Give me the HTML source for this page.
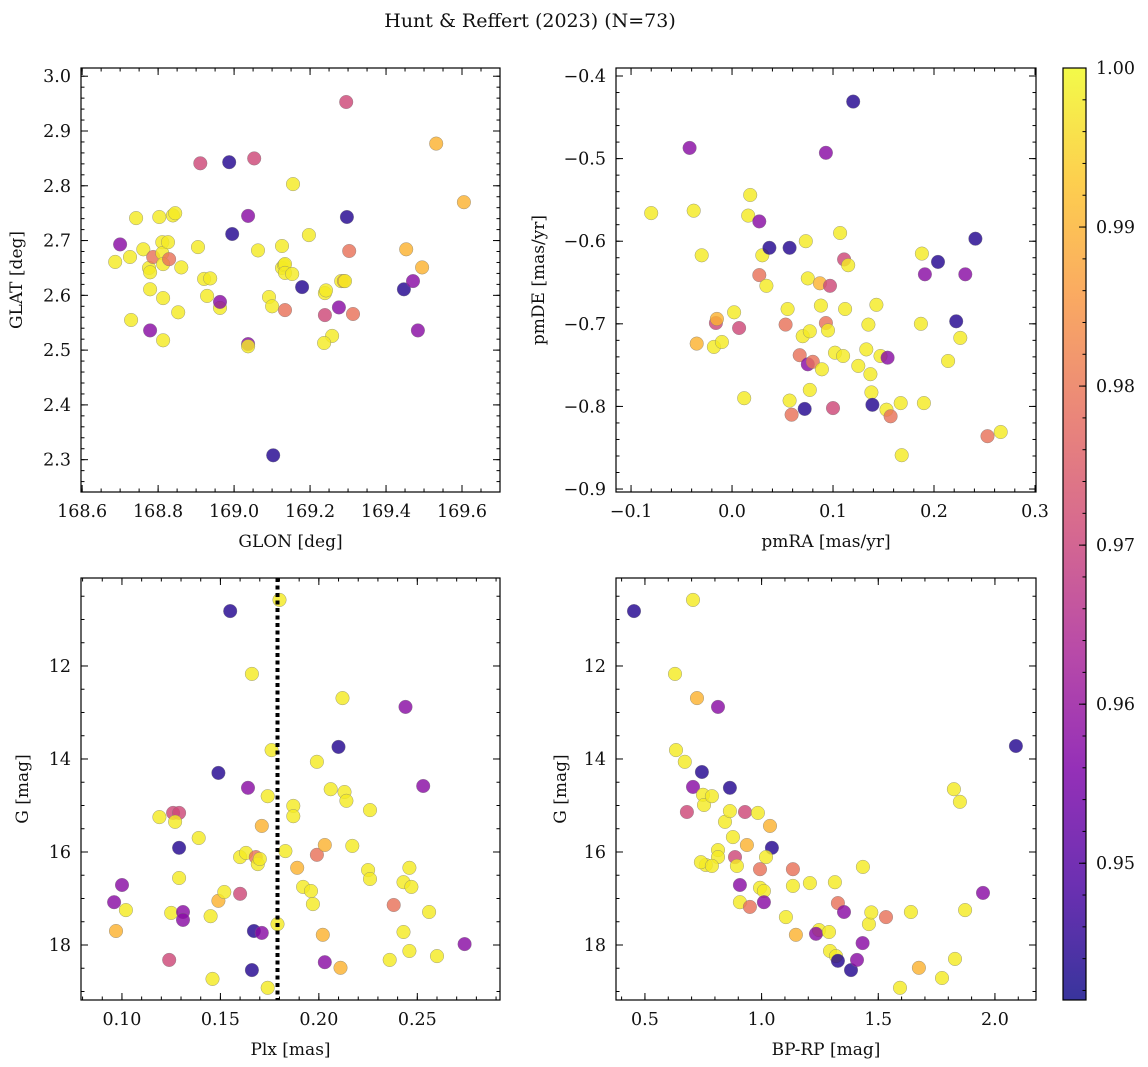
<!DOCTYPE html>
<html><head><meta charset="utf-8"><title>Hunt & Reffert (2023)</title>
<style>html,body{margin:0;padding:0;background:#fff;}svg{display:block;font-family:"DejaVu Serif","Liberation Serif",serif;}</style>
</head><body>
<svg id="fig" width="1148" height="1067" viewBox="0 0 1148 1067" xmlns="http://www.w3.org/2000/svg">
<text x="530" y="27" font-size="19" text-anchor="middle" fill="#111">Hunt &amp; Reffert (2023) (N=73)</text>
</svg>
<script>
// membership probability codes
const Y=0.998,O=0.990,S=0.979,P=0.971,M=0.958,B=0.944;
const panel1Data=[[168.700,2.693,M],[168.687,2.661,Y],[168.742,2.741,Y],[168.726,2.670,Y],[168.729,2.555,Y],[168.761,2.684,Y],[168.776,2.650,Y],[168.779,2.642,Y],[168.779,2.611,Y],[168.779,2.536,M],[168.787,2.670,S],[168.803,2.743,Y],[168.811,2.697,Y],[168.811,2.677,Y],[168.813,2.657,Y],[168.813,2.595,Y],[168.813,2.518,Y],[168.826,2.697,Y],[168.829,2.666,S],[168.839,2.746,Y],[168.845,2.750,Y],[168.853,2.569,Y],[168.861,2.651,Y],[168.905,2.688,Y],[168.911,2.841,P],[168.921,2.630,Y],[168.929,2.599,Y],[168.937,2.631,Y],[168.963,2.577,Y],[168.963,2.588,M],[168.987,2.843,B],[168.995,2.712,B],[169.037,2.745,M],[169.037,2.511,M],[169.037,2.507,Y],[169.053,2.850,P],[169.063,2.682,Y],[169.092,2.597,Y],[169.100,2.580,Y],[169.126,2.650,Y],[169.126,2.690,Y],[169.132,2.655,Y],[169.134,2.657,Y],[169.134,2.641,Y],[169.134,2.573,S],[169.153,2.639,Y],[169.155,2.803,Y],[169.179,2.615,B],[169.197,2.710,Y],[169.239,2.604,Y],[169.242,2.609,Y],[169.239,2.564,P],[169.258,2.526,Y],[169.237,2.513,Y],[169.276,2.578,M],[169.282,2.626,Y],[169.289,2.626,O],[169.292,2.626,Y],[169.295,2.953,P],[169.297,2.743,B],[169.303,2.681,S],[169.313,2.566,S],[169.447,2.611,B],[169.453,2.684,O],[169.471,2.626,M],[169.484,2.536,M],[169.495,2.651,O],[169.532,2.877,O],[169.605,2.770,O],[169.103,2.308,B]];
const panel2Data=[[-0.080,-0.566,Y],[-0.038,-0.563,Y],[-0.042,-0.487,M],[-0.030,-0.617,Y],[-0.035,-0.724,O],[-0.018,-0.728,Y],[-0.016,-0.699,P],[-0.015,-0.694,O],[-0.010,-0.722,Y],[0.002,-0.686,Y],[0.007,-0.705,P],[0.012,-0.790,Y],[0.018,-0.544,Y],[0.016,-0.569,Y],[0.027,-0.576,M],[0.027,-0.641,S],[0.030,-0.617,Y],[0.034,-0.654,Y],[0.037,-0.608,B],[0.057,-0.608,B],[0.055,-0.682,Y],[0.053,-0.701,S],[0.057,-0.793,Y],[0.059,-0.810,S],[0.067,-0.738,S],[0.070,-0.715,Y],[0.073,-0.600,Y],[0.075,-0.645,Y],[0.075,-0.749,M],[0.072,-0.803,B],[0.077,-0.709,Y],[0.077,-0.780,Y],[0.080,-0.746,S],[0.087,-0.651,O],[0.088,-0.678,Y],[0.089,-0.755,Y],[0.093,-0.493,M],[0.093,-0.699,S],[0.095,-0.708,Y],[0.097,-0.654,P],[0.100,-0.802,P],[0.102,-0.735,Y],[0.107,-0.590,Y],[0.110,-0.739,Y],[0.111,-0.622,P],[0.112,-0.682,Y],[0.115,-0.629,Y],[0.120,-0.431,B],[0.125,-0.751,Y],[0.133,-0.731,Y],[0.135,-0.701,Y],[0.137,-0.761,Y],[0.138,-0.783,Y],[0.139,-0.798,B],[0.143,-0.677,Y],[0.147,-0.739,Y],[0.153,-0.804,Y],[0.154,-0.741,M],[0.157,-0.812,S],[0.167,-0.796,Y],[0.168,-0.859,Y],[0.187,-0.700,Y],[0.188,-0.615,Y],[0.190,-0.796,Y],[0.191,-0.640,M],[0.204,-0.625,B],[0.214,-0.745,Y],[0.222,-0.697,B],[0.226,-0.717,Y],[0.231,-0.640,M],[0.241,-0.597,B],[0.253,-0.836,S],[0.266,-0.831,Y]];
const panel3Data=[[0.096,17.08,M],[0.100,16.71,M],[0.097,17.70,O],[0.102,17.25,Y],[0.119,15.25,Y],[0.124,18.32,P],[0.126,15.16,P],[0.129,15.16,P],[0.127,15.35,Y],[0.125,17.31,Y],[0.129,15.91,B],[0.129,16.56,Y],[0.131,17.29,M],[0.131,17.46,M],[0.139,15.70,Y],[0.145,17.38,Y],[0.146,18.73,Y],[0.149,14.30,B],[0.149,17.05,O],[0.152,16.86,Y],[0.155,10.82,B],[0.160,16.90,P],[0.160,16.11,Y],[0.163,16.02,Y],[0.164,14.62,M],[0.166,12.17,Y],[0.166,18.54,B],[0.167,17.70,B],[0.168,16.11,S],[0.169,16.26,Y],[0.170,16.15,Y],[0.171,17.74,M],[0.171,15.44,O],[0.174,14.80,Y],[0.174,18.92,Y],[0.176,13.81,Y],[0.179,17.55,Y],[0.180,10.58,Y],[0.183,15.98,Y],[0.187,15.01,Y],[0.187,15.23,Y],[0.189,16.34,O],[0.192,16.75,Y],[0.196,16.84,Y],[0.197,17.12,Y],[0.199,16.06,S],[0.199,14.06,Y],[0.202,17.78,O],[0.203,15.85,O],[0.203,18.37,M],[0.206,14.65,Y],[0.210,13.74,B],[0.211,18.49,O],[0.212,12.69,Y],[0.213,14.71,Y],[0.214,14.90,Y],[0.217,15.87,Y],[0.225,16.39,Y],[0.226,15.10,Y],[0.226,16.58,Y],[0.236,18.32,Y],[0.238,17.14,S],[0.243,16.65,Y],[0.243,17.72,Y],[0.244,12.88,M],[0.246,18.13,Y],[0.246,16.34,Y],[0.247,16.75,Y],[0.253,14.58,M],[0.256,17.29,Y],[0.260,18.24,Y],[0.274,17.98,M]];
const panel4Data=[[0.453,10.82,B],[0.706,10.58,Y],[0.629,12.17,Y],[0.723,12.69,O],[0.813,12.88,M],[0.633,13.81,Y],[0.671,14.06,Y],[0.744,14.28,B],[0.706,14.60,M],[0.749,14.77,Y],[0.864,14.62,B],[0.753,14.99,Y],[0.787,14.80,Y],[0.680,15.14,P],[0.843,15.35,Y],[0.864,15.12,Y],[0.929,15.14,P],[0.984,15.16,Y],[1.036,15.44,O],[0.877,15.68,Y],[0.937,15.85,O],[1.044,15.91,B],[0.813,15.96,Y],[0.813,16.11,Y],[0.886,16.11,P],[1.019,16.11,Y],[0.761,16.28,Y],[0.740,16.22,Y],[0.787,16.30,Y],[0.894,16.30,Y],[0.993,16.37,S],[1.134,16.37,S],[0.907,16.71,M],[0.993,16.77,Y],[1.010,16.84,Y],[1.134,16.73,Y],[1.207,16.67,Y],[1.314,16.65,Y],[0.907,17.08,Y],[1.010,17.08,M],[0.950,17.18,S],[1.104,17.40,Y],[1.327,17.10,S],[1.353,17.29,M],[1.533,17.40,S],[1.640,17.29,Y],[1.147,17.78,O],[1.246,17.68,Y],[1.233,17.76,M],[1.289,17.72,Y],[1.293,18.13,Y],[1.319,18.24,Y],[1.327,18.34,B],[1.383,18.54,B],[1.409,18.32,M],[1.674,18.49,O],[1.593,18.92,Y],[1.773,18.71,Y],[1.829,18.30,Y],[1.824,14.65,Y],[1.850,14.92,Y],[1.872,17.25,Y],[1.949,16.88,M],[2.090,13.72,B],[1.434,16.32,Y],[1.460,17.55,Y],[1.433,17.96,M],[1.470,17.30,Y]];
const plxLine=0.179;
const cbarTicks=[1.00,0.99,0.98,0.97,0.96,0.95];
const cbarMin=0.9414, cbarMax=1.0;

const NS="http://www.w3.org/2000/svg";
const svg=document.getElementById('fig');
function mk(tag,attrs,parent){const e=document.createElementNS(NS,tag);for(const k in attrs)e.setAttribute(k,attrs[k]);(parent||svg).appendChild(e);return e;}
const stops=[[13,8,135],[76,2,161],[126,3,168],[169,35,149],[204,71,120],[229,107,93],[248,149,64],[253,195,40],[240,249,33]];
function cmap(p){let t=(p-cbarMin)/(cbarMax-cbarMin);t=Math.max(0,Math.min(1,t));const f=t*8,i=Math.min(7,Math.floor(f)),r=f-i;const a=stops[i],b=stops[i+1];return 'rgb('+[0,1,2].map(k=>Math.round(a[k]+(b[k]-a[k])*r)).join(',')+')';}

function fmt(v,d){let s=v.toFixed(d);if(v<0)s='\u2212'+s.slice(1);return s;}
const TF=17.5;

function panel(cfg){
  const g=mk('g',{});
  
  
  const {x0,x1,y0,y1,xmin,xmax,ymin,ymax}=cfg;
  const sx=v=>x0+(v-xmin)/(xmax-xmin)*(x1-x0);
  const sy=cfg.invert?(v=>y0+(v-ymin)/(ymax-ymin)*(y1-y0)):(v=>y1-(v-ymin)/(ymax-ymin)*(y1-y0));
  const pg=mk('g',{},g);
  
  
  cfg.data.forEach(d=>{
    const c=mk('circle',{cx:sx(d[0]).toFixed(1),cy:sy(d[1]).toFixed(1),r:6.8,fill:cmap(d[2]),'fill-opacity':0.82,stroke:'#777','stroke-width':0.5,'stroke-opacity':0.7},pg);
    
    
  });
  if(cfg.vline!==undefined){
    const l=mk('line',{x1:sx(cfg.vline),x2:sx(cfg.vline),y1:y0,y2:y1,stroke:'#000','stroke-width':4,'stroke-dasharray':'4,3.5'},g);
    
    
  }
  const tg=mk('g',{stroke:'#000','stroke-width':1},g);
  const eps=1e-9;
  function range(step,lo,hi){const a=[];let s=Math.ceil((lo-eps)/step);for(let v=s*step;v<=hi+eps;v=(++s)*step)a.push(+v.toFixed(6));return a;}
  range(cfg.xminor,xmin,xmax).forEach(v=>{const X=sx(v);mk('line',{x1:X,x2:X,y1:y1,y2:y1-3.5},tg);mk('line',{x1:X,x2:X,y1:y0,y2:y0+3.5},tg);});
  range(cfg.yminor,Math.min(ymin,ymax),Math.max(ymin,ymax)).forEach(v=>{const Yp=sy(v);mk('line',{x1:x0,x2:x0+3.5,y1:Yp,y2:Yp},tg);mk('line',{x1:x1,x2:x1-3.5,y1:Yp,y2:Yp},tg);});
  range(cfg.xmajor,xmin,xmax).forEach(v=>{const X=sx(v);mk('line',{x1:X,x2:X,y1:y1,y2:y1-7},tg);mk('line',{x1:X,x2:X,y1:y0,y2:y0+7},tg);
    const t=mk('text',{x:X,y:y1+25,'font-size':TF,'text-anchor':'middle',fill:'#111',stroke:'none'},g);t.textContent=fmt(v,cfg.xdec);
    
    });
  range(cfg.ymajor,Math.min(ymin,ymax),Math.max(ymin,ymax)).forEach(v=>{const Yp=sy(v);mk('line',{x1:x0,x2:x0+7,y1:Yp,y2:Yp},tg);mk('line',{x1:x1,x2:x1-7,y1:Yp,y2:Yp},tg);
    const t=mk('text',{x:x0-10,y:Yp+6,'font-size':TF,'text-anchor':'end',fill:'#111',stroke:'none'},g);t.textContent=fmt(v,cfg.ydec);
    
    });
  const fr=mk('rect',{x:x0,y:y0,width:x1-x0,height:y1-y0,fill:'none',stroke:'#000','stroke-width':1.2},g);
  
  
  const xl=mk('text',{x:(x0+x1)/2,y:y1+55,'font-size':17,'text-anchor':'middle',fill:'#111'},g);xl.textContent=cfg.xlabel;
  
  
  const ly=(y0+y1)/2;
  const yl=mk('text',{x:cfg.ylx,y:ly,'font-size':17,'text-anchor':'middle',fill:'#111',transform:'rotate(-90 '+cfg.ylx+' '+ly+')'},g);yl.textContent=cfg.ylabel;
  
  
}

panel({name:'glon-glat-panel',data:panel1Data,x0:81,x1:500,y0:68,y1:492,xmin:168.597,xmax:169.700,ymin:2.241,ymax:3.015,xmajor:0.2,xminor:0.05,ymajor:0.1,yminor:0.02,xdec:1,ydec:1,xlabel:'GLON [deg]',ylabel:'GLAT [deg]',ylx:22});
panel({name:'proper-motion-panel',data:panel2Data,x0:616,x1:1036,y0:68,y1:492,xmin:-0.1149,xmax:0.301,ymin:-0.9036,ymax:-0.3903,xmajor:0.1,xminor:0.02,ymajor:0.1,yminor:0.02,xdec:1,ydec:1,xlabel:'pmRA [mas/yr]',ylabel:'pmDE [mas/yr]',ylx:544});
panel({name:'parallax-magnitude-panel',data:panel3Data,x0:81,x1:500,y0:578,y1:1000,xmin:0.0792,xmax:0.292,ymin:10.108,ymax:19.183,invert:true,xmajor:0.05,xminor:0.01,ymajor:2,yminor:0.5,xdec:2,ydec:0,xlabel:'Plx [mas]',ylabel:'G [mag]',ylx:28,vline:plxLine});
panel({name:'color-magnitude-panel',data:panel4Data,x0:616,x1:1036,y0:578,y1:1000,xmin:0.376,xmax:2.176,ymin:10.108,ymax:19.183,invert:true,xmajor:0.5,xminor:0.1,ymajor:2,yminor:0.5,xdec:1,ydec:0,xlabel:'BP-RP [mag]',ylabel:'G [mag]',ylx:566});

(function(){
  const cx0=1063,cx1=1086,cy0=68,cy1=1000;
  const cg=mk('g',{});
  
  
  const defs=mk('defs',{},cg);
  const lg=mk('linearGradient',{id:'cbg',x1:0,y1:1,x2:0,y2:0},defs);
  stops.forEach((s,i)=>mk('stop',{offset:i/8,'stop-color':'rgb('+s.join(',')+')','stop-opacity':0.82},lg));
  mk('rect',{x:cx0,y:cy0,width:cx1-cx0,height:cy1-cy0,fill:'url(#cbg)',stroke:'#000','stroke-width':1.2},cg);
  const sy=v=>cy1-(v-cbarMin)/(cbarMax-cbarMin)*(cy1-cy0);
  for(let v=0.942;v<=1.0001;v+=0.002){mk('line',{x1:cx1,x2:cx1-3.5,y1:sy(v),y2:sy(v),stroke:'#000'},cg);}
  cbarTicks.forEach(v=>{const Yp=sy(v);mk('line',{x1:cx1,x2:cx1-7,y1:Yp,y2:Yp,stroke:'#000'},cg);
    const t=mk('text',{x:cx1+10,y:Yp+6,'font-size':TF,fill:'#111'},cg);t.textContent=v.toFixed(2);
    
    });
})();
</script>
</body></html>
